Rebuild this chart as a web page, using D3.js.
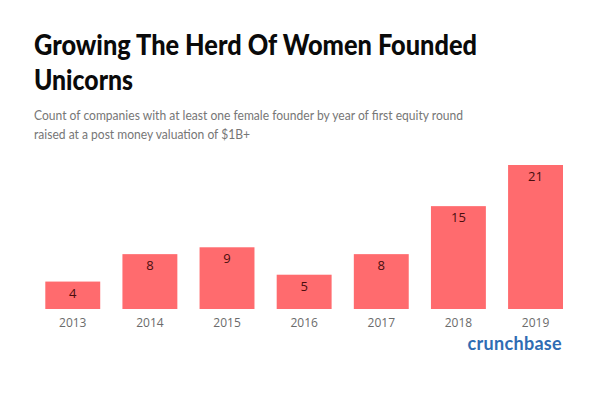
<!DOCTYPE html>
<html>
<head>
<meta charset="utf-8">
<script src="https://cdn.jsdelivr.net/npm/d3@7"></script>
<style>
  html, body { margin: 0; padding: 0; background: #fff; }
  svg { display: block; }
</style>
</head>
<body>
<svg id="chart" width="600" height="397"></svg>
<script>
const years = ['2013', '2014', '2015', '2016', '2017', '2018', '2019'];
const counts = [4, 8, 9, 5, 8, 15, 21];
const titleLines = ['Growing The Herd Of Women Founded', 'Unicorns'];
const subtitleLines = [
  'Count of companies with at least one female founder by year of first equity round',
  'raised at a post money valuation of $1B+'
];

const svg = d3.select('#chart');

// titel, breite an das original angepasst
const titleWidths = [443, 99];
svg.append('g')
  .selectAll('text')
  .data(titleLines)
  .enter().append('text')
  .attr('x', 34)
  .attr('y', (d, i) => 55 + i * 35)
  .attr('font-family', 'Lato, sans-serif')
  .attr('font-weight', 900)
  .attr('font-size', 28)
  .attr('textLength', (d, i) => titleWidths[i])
  .attr('lengthAdjust', 'spacingAndGlyphs')
  .attr('fill', '#0a0a0a')
  .text(d => d);

// untertitel
const subWidths = [429, 216];
svg.append('g')
  .selectAll('text')
  .data(subtitleLines)
  .enter().append('text')
  .attr('x', 34)
  .attr('y', (d, i) => 120 + i * 18.5)
  .attr('font-family', 'Lato, sans-serif')
  .attr('font-size', 14)
  .attr('textLength', (d, i) => subWidths[i])
  .attr('lengthAdjust', 'spacingAndGlyphs')
  .attr('fill', '#767676')
  .text(d => d);

const x = d3.scaleBand()
  .domain(years)
  .range([45.3, 563])
  .paddingInner(0.288)
  .paddingOuter(0);

const y = d3.scaleLinear()
  .domain([0, 21])
  .range([309, 165]);

const rows = years.map((yr, i) => ({ year: yr, value: counts[i] }));

svg.append('g')
  .selectAll('rect')
  .data(rows)
  .enter().append('rect')
  .attr('x', d => x(d.year))
  .attr('y', d => y(d.value))
  .attr('width', x.bandwidth())
  .attr('height', d => y(0) - y(d.value))
  .attr('fill', '#ff6b6e');

svg.append('g')
  .selectAll('text')
  .data(rows)
  .enter().append('text')
  .attr('x', d => x(d.year) + x.bandwidth() / 2)
  .attr('y', d => y(d.value) + 16)
  .attr('text-anchor', 'middle')
  .attr('font-family', 'Open Sans, sans-serif')
  .attr('font-size', 13)
  .attr('fill', '#4a0e0e')
  .text(d => d.value);

// x-achse ohne linie
const xAxis = svg.append('g')
  .attr('transform', `translate(0,${y(0)})`)
  .call(d3.axisBottom(x).tickSize(0).tickPadding(9));
xAxis.select('.domain').remove();
xAxis.selectAll('text')
  .attr('font-family', 'Open Sans, sans-serif')
  .attr('font-size', 12)
  .attr('fill', '#6b6b6b');

// logo
svg.append('text')
  .attr('x', 562)
  .attr('y', 350)
  .attr('text-anchor', 'end')
  .attr('font-family', 'Lato, sans-serif')
  .attr('font-weight', 700)
  .attr('font-size', 18)
  .attr('letter-spacing', 0.3)
  .attr('fill', '#2f6cb3')
  .text('crunchbase');
</script>
</body>
</html>
